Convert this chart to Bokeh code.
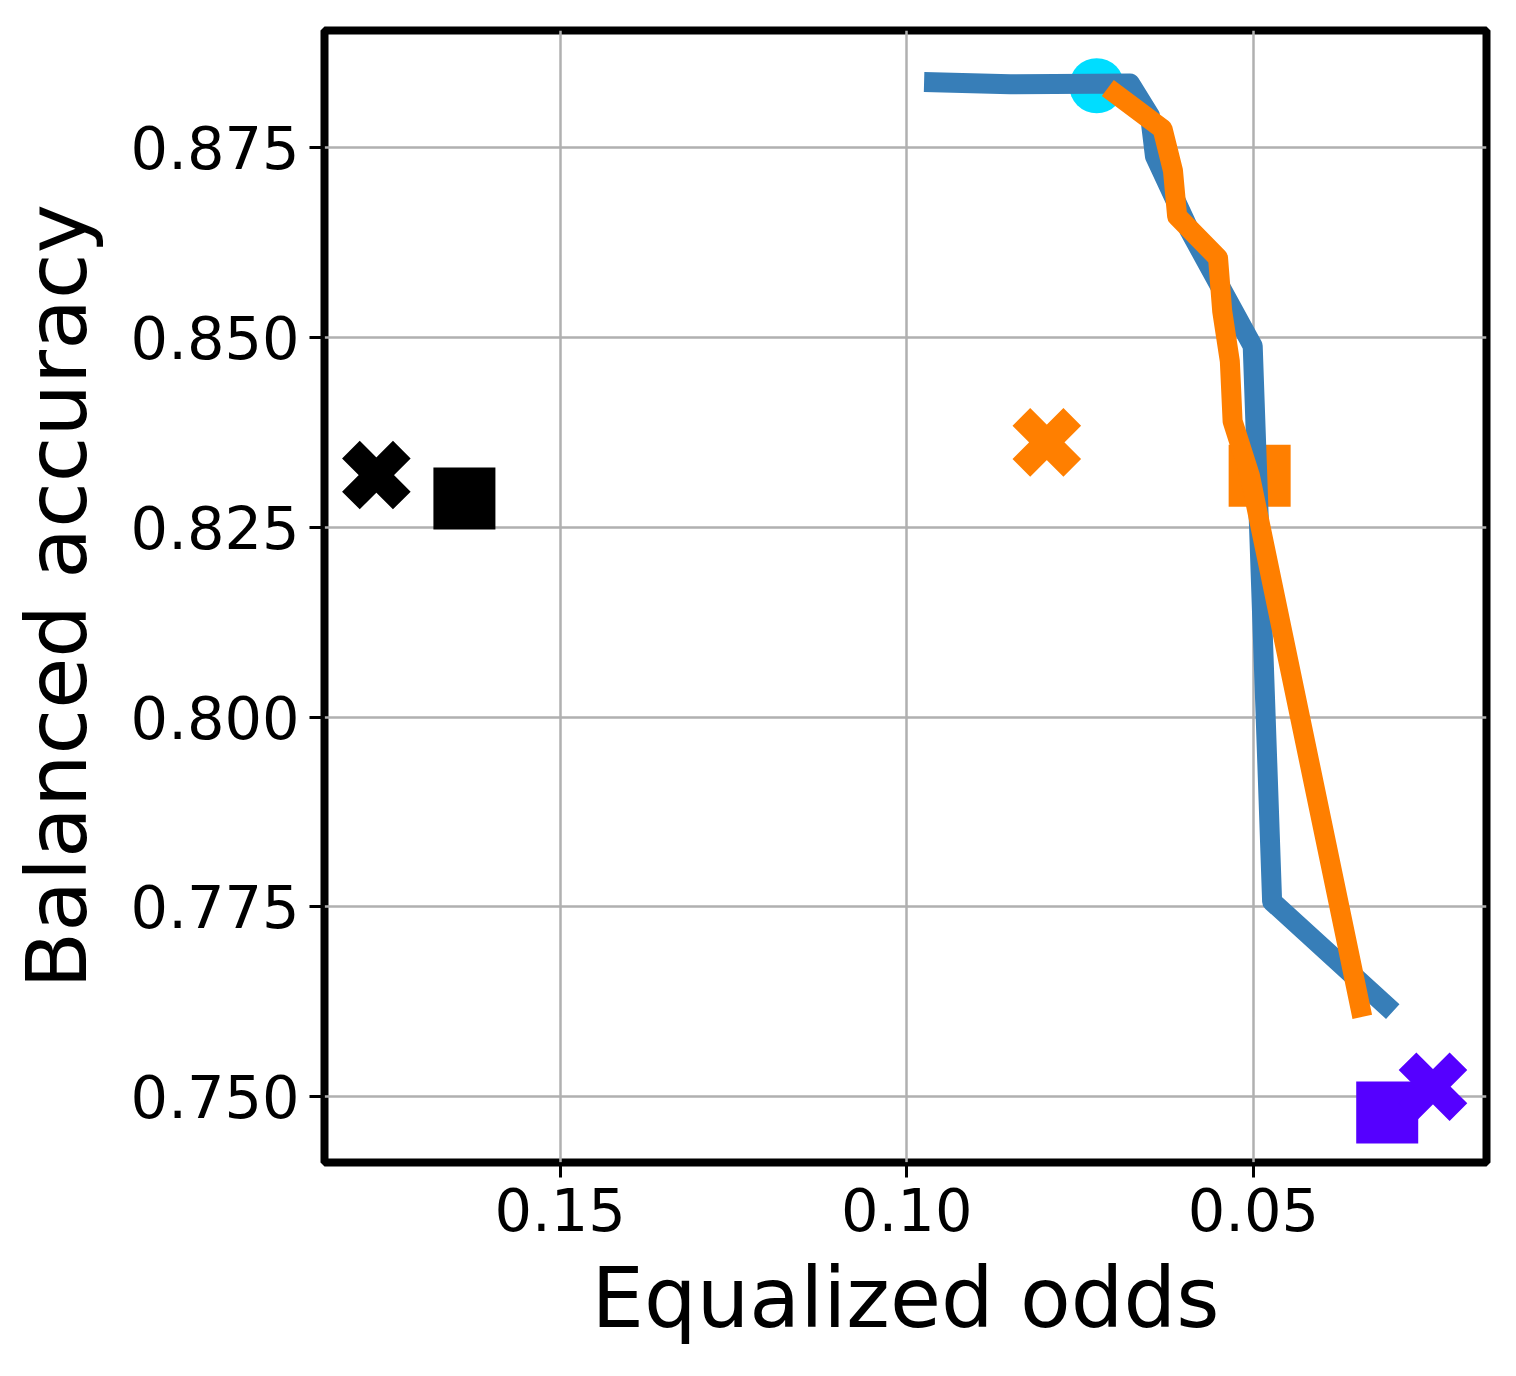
from bokeh.plotting import figure
from bokeh.models import Range1d, FixedTicker
from bokeh.embed import file_html
from bokeh.resources import INLINE

# --- data ---
blue_x = [0.0975, 0.0851, 0.0678, 0.0649, 0.0642, 0.0592, 0.0501, 0.0473, 0.0299]
blue_y = [0.8837, 0.8834, 0.8835, 0.8792, 0.8739, 0.8641, 0.8489, 0.7757, 0.7612]

orange_x = [0.0710, 0.0631, 0.0616, 0.0610, 0.0551, 0.0545, 0.0534, 0.0530, 0.0505, 0.0343]
orange_y = [0.8829, 0.8775, 0.8720, 0.8660, 0.8605, 0.8535, 0.8469, 0.8390, 0.8318, 0.7605]

x_marker_x = [0.1765, 0.0798, 0.0241]
x_marker_y = [0.8319, 0.8362, 0.7513]
x_marker_c = ["#000000", "#ff7f00", "#5500ff"]

sq_marker_x = [0.1638, 0.0491, 0.0307]
sq_marker_y = [0.8288, 0.8318, 0.7479]
sq_marker_c = ["#000000", "#ff7f00", "#5500ff"]

circle_x = [0.0726]
circle_y = [0.8832]

x_ticks = [0.15, 0.10, 0.05]
x_tick_labels = ["0.15", "0.10", "0.05"]
y_ticks = [0.750, 0.775, 0.800, 0.825, 0.850, 0.875]
y_tick_labels = ["0.750", "0.775", "0.800", "0.825", "0.850", "0.875"]

FONT = "DejaVu Sans"

p = figure(width=1508, height=1368, output_backend="svg", toolbar_location=None,
           x_range=Range1d(0.18398, 0.01638), y_range=Range1d(0.74131, 0.89048),
           min_border_left=324, min_border_right=22, min_border_top=30, min_border_bottom=206)

p.background_fill_color = "white"
p.border_fill_color = "white"
p.outline_line_color = "black"
p.outline_line_width = 8

# grid
for g in (p.xgrid, p.ygrid):
    g.grid_line_color = "#b0b0b0"
    g.grid_line_width = 2.5
p.xgrid.ticker = FixedTicker(ticks=x_ticks)
p.ygrid.ticker = FixedTicker(ticks=y_ticks)

# axes
p.xaxis.ticker = FixedTicker(ticks=x_ticks)
p.yaxis.ticker = FixedTicker(ticks=y_ticks)
p.xaxis.major_label_overrides = dict(zip(x_ticks, x_tick_labels))
p.yaxis.major_label_overrides = dict(zip(y_ticks, y_tick_labels))
p.xaxis.axis_label = "Equalized odds"
p.yaxis.axis_label = "Balanced accuracy"
for ax in (p.xaxis, p.yaxis):
    ax.axis_line_color = None
    ax.major_tick_out = 15
    ax.major_tick_in = 0
    ax.major_tick_line_width = 3
    ax.major_tick_line_color = "black"
    ax.minor_tick_line_color = None
    ax.major_label_text_font = FONT
    ax.major_label_text_font_size = "59px"
    ax.major_label_text_color = "black"
    ax.axis_label_text_font = FONT
    ax.axis_label_text_font_size = "83px"
    ax.axis_label_text_font_style = "normal"
    ax.axis_label_text_color = "black"
    ax.major_label_standoff = 10
p.xaxis.axis_label_standoff = 16
p.yaxis.axis_label_standoff = 22

# markers
p.scatter(sq_marker_x, sq_marker_y, marker="square", size=62, fill_color=sq_marker_c,
          line_color=None)
p.scatter(x_marker_x, x_marker_y, marker="x", size=72, line_color=x_marker_c,
          line_width=25)
p.scatter(circle_x, circle_y, marker="circle", size=55, fill_color="#00ddff", line_color=None)

# lines
p.line(blue_x, blue_y, line_color="#377eb8", line_width=20, line_join="round", line_cap="butt")
p.line(orange_x, orange_y, line_color="#ff7f00", line_width=20, line_join="round", line_cap="butt")

open("out.html", "w").write(file_html(p, INLINE))
